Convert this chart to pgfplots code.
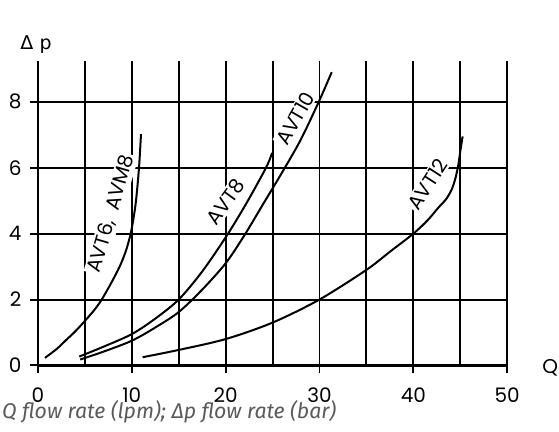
\documentclass[border=0pt]{standalone}
\usepackage{fontspec}
\usepackage{pgfplots}
\pgfplotsset{compat=1.18}
\setmainfont{Poppins}
\newfontfamily\capfont{Fira Sans}
\newfontfamily\dfont{DejaVu Sans}
\definecolor{capgray}{RGB}{90,90,90}
\begin{document}
\begin{tikzpicture}
\path (-38pt,-66pt) rectangle (521pt,366pt);
\begin{axis}[
  set layers,
  at={(0pt,0pt)}, anchor=south west,
  x=9.4pt, y=33pt,
  xmin=0, xmax=50, ymin=0, ymax=9.25,
  enlargelimits=false,
  clip=false,
  axis line style={draw=none},
  xtick={0,10,...,50},
  minor xtick={5,15,...,45},
  ytick={0,2,...,8},
  xtick pos=left, ytick pos=left,
  tick align=outside,
  major tick length=8pt, minor tick length=0pt,
  grid=both,
  major grid style={black, line width=2pt},
  minor grid style={black, line width=2pt},
  major tick style={black, line width=2pt},
  ticklabel style={font=\fontsize{20}{22}\selectfont},
  xticklabel style={yshift=-11pt},
  yticklabel style={xshift=-5pt},
  /pgf/number format/assume math mode=true,
]
\draw[line width=3pt] (axis cs:0,0) -- (axis cs:50,0);
% labels with white background
\node[rotate=73.6, fill=white, inner sep=1.5pt, font=\fontsize{20}{22}\selectfont] at (axis cs:7.8,4.6) {AVT6,\ \ AVM8};
\node[rotate=54, fill=white, inner sep=1.5pt, font=\fontsize{20}{22}\selectfont] at (axis cs:20.0,4.97) {AVT8};
\node[rotate=60, fill=white, inner sep=1.5pt, font=\fontsize{20}{22}\selectfont] at (axis cs:27.4,7.5) {AVT10};
\node[rotate=57, fill=white, inner sep=1.5pt, font=\fontsize{20}{22}\selectfont] at (axis cs:41.5,5.5) {AVT12};
% AVT6, AVM8
\addplot[black, line width=2pt, smooth] coordinates {
(0.75,0.23) (2,0.5) (3,0.77) (4,1.04) (5,1.35) (6,1.68) (6.8,2.0) (7.8,2.5)
(8.74,3.02) (9.4,3.5) (9.88,4.0) (10.2,4.5) (10.45,5.0) (10.77,6.0) (10.98,7.02)};
% AVT8
\addplot[black, line width=2pt, smooth] coordinates {
(4.4,0.27) (7,0.57) (10,0.95) (12.5,1.42) (15,2.0) (17.5,2.85) (20.1,3.93)
(22.25,4.94) (24.3,6.0) (24.95,6.45)};
% AVT10
\addplot[black, line width=2pt, smooth] coordinates {
(4.5,0.18) (7,0.42) (10,0.75) (12.5,1.15) (15,1.62) (17.5,2.3) (20,3.1)
(22,3.95) (24,4.9) (26,5.85) (28,6.85) (30,8.05) (31.3,8.9)};
% AVT12
\addplot[black, line width=2pt, smooth] coordinates {
(11.16,0.25) (15,0.47) (20,0.8) (25,1.3) (30,2.0) (35,2.9) (37.5,3.45)
(40,4.0) (41.5,4.4) (42.7,4.8) (43.5,5.05) (44.1,5.35) (44.5,5.7) (44.8,6.1) (45.0,6.5) (45.25,6.95)};
\end{axis}
\node[font=\dfont\fontsize{19}{20}\selectfont] at (-2pt,321pt) {Δ\,\,p};
\node[font=\fontsize{20}{22}\selectfont, inner sep=1pt] at (513pt,-2pt) {Q};
\node[anchor=west, font=\capfont\itshape\fontsize{21.3}{22}\selectfont, text=capgray, inner sep=0pt] at (-36pt,-46pt) {Q flow rate (lpm); Δp flow rate (bar)};
\end{tikzpicture}
\end{document}
